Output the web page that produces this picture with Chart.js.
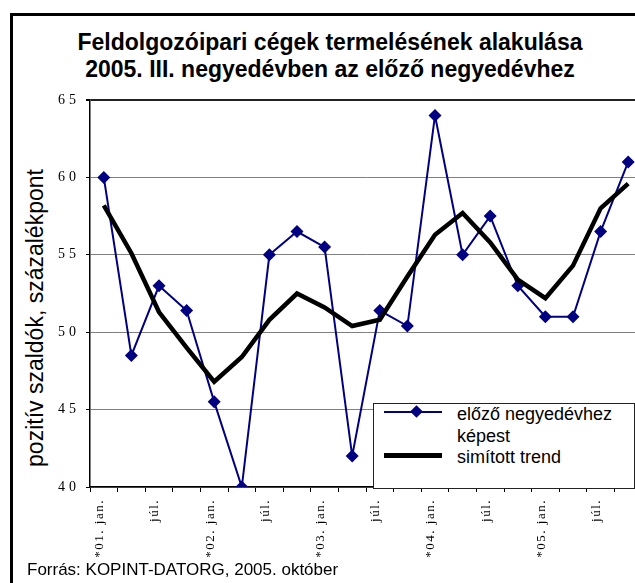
<!DOCTYPE html>
<html>
<head>
<meta charset="utf-8">
<script src="https://cdn.jsdelivr.net/npm/chart.js@4.4.0/dist/chart.umd.min.js"></script>
<style>
  html, body { margin: 0; padding: 0; background: #fff; overflow: hidden; width: 635px; height: 583px; }
  body { position: relative; font-family: "Liberation Sans", Arial, sans-serif; color: #000; }
  #frame { position: absolute; left: 10px; top: 13px; width: 700px; height: 700px; border: 3px solid #000; box-sizing: border-box; }
  #box { position: absolute; left: 0; top: 0; width: 660px; height: 583px; }
  #title { position: absolute; left: 0; top: 29px; width: 660px; text-align: center; font-weight: bold; font-size: 23px; line-height: 27px; }
  #ytitle { position: absolute; left: -165px; top: 305px; width: 400px; height: 26px; line-height: 26px; text-align: center; font-size: 23px; transform: rotate(-90deg); }
  #legend { position: absolute; left: 373px; top: 403px; width: 262px; height: 86px; border: 1px solid #222; background: #fff; box-sizing: border-box; font-size: 18px; }
  .sample { position: absolute; left: 10px; width: 58px; }
  .txt { position: absolute; left: 83px; line-height: 22px; }
  #source { position: absolute; left: 27px; top: 560px; font-size: 17px; line-height: 20px; }
</style>
</head>
<body>
<div id="frame"></div>
<div id="title">Feldolgozóipari cégek termelésének alakulása<br>2005. III. negyedévben az előző negyedévhez</div>
<div id="ytitle">pozitív szaldók, százalékpont</div>
<div id="box"><canvas id="chart" width="660" height="583"></canvas></div>
<div id="legend">
  <div class="sample" style="top:7px;height:2px;background:#000080"></div>
  <div style="position:absolute;left:38px;top:3px;width:9px;height:9px;background:#000080;transform:rotate(45deg)"></div>
  <div class="txt" style="top:-1px">előző negyedévhez<br>képest</div>
  <div class="sample" style="top:49px;height:5px;background:#000"></div>
  <div class="txt" style="top:42px">simított trend</div>
</div>
<div id="source">Forrás: KOPINT-DATORG, 2005. október</div>
<script>
const categories = ['*01. jan.', '', 'júl.', '', '*02. jan.', '', 'júl.', '', '*03. jan.', '', 'júl.', '',
  '*04. jan.', '', 'júl.', '', '*05. jan.', '', 'júl.', ''];
const prevQuarter = [60, 48.5, 53, 51.4, 45.5, 40, 55, 56.5, 55.5, 42, 51.4, 50.4, 64, 55, 57.5, 53, 51, 51, 56.5, 61];
const smoothTrend = [58.2, 55.1, 51.3, 49.0, 46.8, 48.4, 50.8, 52.5, 51.6, 50.4, 50.8, 53.6, 56.3, 57.7, 55.8, 53.4, 52.2, 54.3, 58.0, 59.6];
const yTicks = [40, 45, 50, 55, 60, 65];

// letter spacing for the serif tick labels (x before datasets, y after)
const spacing = {
  id: 'spacing',
  beforeDraw(c) { c.ctx.letterSpacing = '1.5px'; },
  afterDatasetsDraw(c) { c.ctx.letterSpacing = '4px'; },
  afterDraw(c) { c.ctx.letterSpacing = '0px'; }
};

const ctx = document.getElementById('chart').getContext('2d');
const chart = new Chart(ctx, {
  type: 'line',
  data: {
    labels: categories,
    datasets: [
      {
        label: 'simított trend',
        data: smoothTrend,
        borderColor: '#000',
        borderWidth: 4.5,
        pointRadius: 0,
        tension: 0,
        order: 0
      },
      {
        label: 'előző negyedévhez képest',
        data: prevQuarter,
        borderColor: '#000080',
        backgroundColor: '#000080',
        borderWidth: 2,
        pointStyle: 'rectRot',
        pointRadius: 6.5,
        pointBorderWidth: 0,
        tension: 0,
        order: 1
      }
    ]
  },
  options: {
    responsive: false,
    animation: false,
    events: [],
    layout: { padding: { left: 0, top: 100, right: 18, bottom: 0 } },
    plugins: { legend: { display: false }, title: { display: false }, tooltip: { enabled: false } },
    scales: {
      x: {
        offset: true,
        afterFit: s => { s.height = 96; },
        grid: { offset: true, drawOnChartArea: false, drawTicks: true, tickLength: 5, tickColor: '#000', lineWidth: 1 },
        border: { color: '#000', width: 1.5 },
        ticks: {
          autoSkip: false, minRotation: 90, maxRotation: 90, padding: 7, labelOffset: -4,
          color: '#000', font: { family: '"Liberation Serif", "Times New Roman", serif', size: 13 }
        }
      },
      y: {
        min: 40, max: 65,
        afterFit: s => { s.width = 90; },
        afterBuildTicks: s => { s.ticks = yTicks.map(v => ({ value: v })); },
        grid: {
          color: c => c.tick && c.tick.value === 65 ? '#222' : '#808080',
          lineWidth: c => c.tick && c.tick.value === 65 ? 2 : 1,
          tickColor: '#000', tickLength: 4
        },
        border: { color: '#000', width: 1.5 },
        ticks: {
          z: 1, padding: 6, color: '#000',
          font: { family: '"Liberation Serif", "Times New Roman", serif', size: 14 }
        }
      }
    }
  },
  plugins: [spacing]
});
</script>
</body>
</html>
